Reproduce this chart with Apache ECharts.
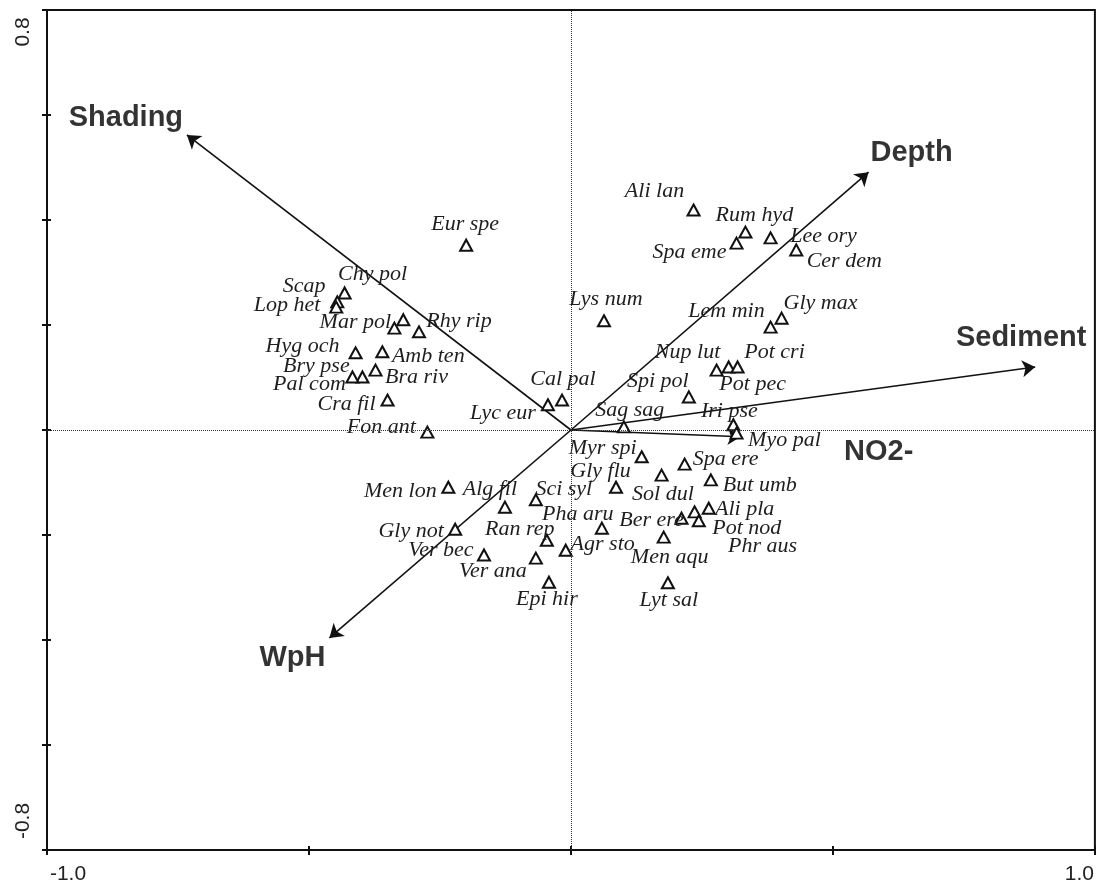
<!DOCTYPE html>
<html><head><meta charset="utf-8">
<script src="https://cdn.jsdelivr.net/npm/echarts@6/dist/echarts.min.js"></script>
<style>html,body{margin:0;padding:0;background:#fff}#c{width:1097px;height:887px}</style>
</head><body><div id="c"></div>
<script>
// ---- data ----
const species = ['Chy pol','Scap','Lop het','','Mar pol','Rhy rip','Hyg och','Amb ten','Bra riv','Bry pse','Pal com','Cra fil','Fon ant','Eur spe',
  'Lys num','Cal pal','Lyc eur','Ali lan','Rum hyd','Spa eme','Lee ory','Cer dem','Lem min','Gly max','Nup lut','Pot pec','Pot cri','Spi pol',
  'Sag sag','Iri pse','Myo pal','Myr spi','Spa ere','Gly flu','But umb','Sol dul','Ber ere','Phr aus','Pot nod','Ali pla','Men aqu','Lyt sal',
  'Men lon','Alg fil','Sci syl','Pha aru','Gly not','Ran rep','Agr sto','Ver bec','Ver ana','Epi hir'];
const speciesX = [-0.432,-0.446,-0.448,-0.320,-0.337,-0.290,-0.411,-0.360,-0.373,-0.398,-0.417,-0.350,-0.274,-0.200,
  0.063,-0.017,-0.044,0.234,0.333,0.316,0.381,0.430,0.381,0.402,0.278,0.301,0.318,0.225,
  0.101,0.310,0.316,0.135,0.217,0.173,0.267,0.086,0.211,0.236,0.244,0.263,0.177,0.185,
  -0.234,-0.126,-0.067,0.059,-0.221,-0.046,-0.010,-0.166,-0.067,-0.042];
const speciesY = [0.261,0.244,0.234,0.210,0.194,0.187,0.147,0.149,0.114,0.101,0.101,0.057,-0.004,0.352,
  0.208,0.057,0.048,0.419,0.377,0.356,0.366,0.343,0.196,0.213,0.114,0.120,0.120,0.063,
  0.006,0.010,-0.006,-0.051,-0.065,-0.086,-0.095,-0.109,-0.168,-0.156,-0.173,-0.149,-0.204,-0.291,
  -0.109,-0.147,-0.133,-0.187,-0.189,-0.210,-0.229,-0.238,-0.244,-0.290];
const envNames = ['Shading','Depth','Sediment','NO2-','WpH'];
const envX = [-0.733, 0.568, 0.886, 0.324, -0.461];
const envY = [0.562, 0.491, 0.120, -0.013, -0.396];
const xTickValues = [-1.0, 1.0];
const xTickLabels = ['-1.0', '1.0'];
const yTickValues = [-0.8, 0.8];
const yTickLabels = ['-0.8', '0.8'];

// ---- label placement (layout only) ----
const speciesLabelOffsets = [[29,-18],[-32,-15],[-48,-1],[0,0],[-38,-5],[41,-10],[-52,-6],[47,5],[42,8],[-45,-10],[-42,8],[-40,5],[-45,-4],[0,-20],
  [3,-21],[2,-20],[-44,9],[-38,-18],[10,-16],[-46,10],[54,-1],[49,12],[-43,-15],[40,-14],[-28,-17],[25,18],[38,-14],[-30,-15],
  [7,-16],[-3,-13],[49,8],[-38,-8],[42,-4],[-60,-3],[50,6],[48,8],[-29,3],[69,35],[49,8],[37,2],[7,21],[2,18],
  [-47,5],[-14,-17],[29,-10],[-23,-13],[-43,3],[-26,-10],[38,-5],[-42,-4],[-42,14],[-1,18]];
const envLabelOffsets = [[-61,-17],[43,-19],[-14,-29],[138,15],[-37,20]];

const chart = echarts.init(document.getElementById('c'), null, {renderer:'canvas'});
const tickFont = {fontFamily:'Liberation Sans, Arial, sans-serif', fontSize:21, color:'#222'};
function findIdx(vals, v){ for (let i=0;i<vals.length;i++) if (Math.abs(vals[i]-v)<1e-6) return i; return -1; }

const scatterData = species.map((n,i)=>({
  name:n, value:[speciesX[i], speciesY[i]],
  label:{offset:speciesLabelOffsets[i]}
}));
const arrowData = envNames.map((n,i)=>({coords:[[0,0],[envX[i],envY[i]]]}));
const envLabelData = envNames.map((n,i)=>({name:n, value:[envX[i],envY[i]], label:{offset:envLabelOffsets[i]}}));

const option = {
  animation:false,
  backgroundColor:'#fff',
  grid:{left:47, right:1, top:10, bottom:37, show:true, borderColor:'#111', borderWidth:2, backgroundColor:'transparent'},
  xAxis:[{
    type:'value', min:-1, max:1, interval:0.5, position:'bottom',
    axisLine:{show:true, onZero:false, lineStyle:{color:'#111', width:2}},
    axisTick:{show:true, inside:false, length:5, lineStyle:{color:'#111', width:2}},
    splitLine:{show:false},
    axisLabel:{show:true, showMinLabel:true, showMaxLabel:true, margin:14,
      formatter:function(v){const k=findIdx(xTickValues,v); if(k<0) return ''; return (k===0?'{l|':'{r|')+xTickLabels[k]+'}';},
      rich:{l:Object.assign({padding:[0,0,0,42]},tickFont), r:Object.assign({padding:[0,31,0,0]},tickFont)}}
  },{
    type:'value', min:-1, max:1, interval:0.5, position:'bottom',
    axisLine:{show:false, onZero:false},
    axisTick:{show:true, inside:true, length:4, lineStyle:{color:'#111', width:2}},
    splitLine:{show:false}, axisLabel:{show:false}
  }],
  yAxis:[{
    type:'value', min:-0.8, max:0.8, interval:0.2, position:'left',
    axisLine:{show:true, onZero:false, lineStyle:{color:'#111', width:2}},
    axisTick:{show:true, inside:false, length:5, lineStyle:{color:'#111', width:2}},
    splitLine:{show:false},
    axisLabel:{show:true, rotate:90, showMinLabel:true, showMaxLabel:true, margin:13,
      formatter:function(v){const k=findIdx(yTickValues,v); if(k<0) return ''; return (k===0?'{b|':'{t|')+yTickLabels[k]+'}';},
      rich:{t:Object.assign({padding:[0,44,0,0]},tickFont), b:Object.assign({padding:[0,0,0,58]},tickFont)}}
  },{
    type:'value', min:-0.8, max:0.8, interval:0.2, position:'left',
    axisLine:{show:false, onZero:false},
    axisTick:{show:true, inside:true, length:4, lineStyle:{color:'#111', width:2}},
    splitLine:{show:false}, axisLabel:{show:false}
  }],
  series:[
    {
      type:'scatter', xAxisIndex:0, yAxisIndex:0, z:1, silent:true,
      symbol:'none', data:[],
      markLine:{silent:true, symbol:['none','none'], label:{show:false},
        lineStyle:{type:'dotted', color:'#333', width:1},
        data:[{xAxis:0},{yAxis:0}]}
    },
    {
      type:'lines', coordinateSystem:'cartesian2d', xAxisIndex:0, yAxisIndex:0, z:3, silent:true,
      symbol:['none','arrow'], symbolSize:13,
      lineStyle:{color:'#111', width:1.6, opacity:1},
      data:arrowData
    },
    {
      type:'scatter', xAxisIndex:0, yAxisIndex:0, z:4, silent:true,
      symbol:'triangle', symbolSize:[12,11],
      itemStyle:{color:'#fff', borderColor:'#111', borderWidth:2, opacity:1},
      label:{show:true, position:[6,5.5], align:'center', verticalAlign:'middle', formatter:'{b}', color:'#1e1e1e',
        fontFamily:'Liberation Serif, Times New Roman, serif', fontStyle:'italic', fontSize:22},
      data:scatterData
    },
    {
      type:'scatter', xAxisIndex:0, yAxisIndex:0, z:5, silent:true,
      symbol:'circle', symbolSize:2, itemStyle:{color:'rgba(255,255,255,0)'},
      label:{show:true, position:[1,1], align:'center', verticalAlign:'middle', formatter:'{b}', color:'#000',
        fontFamily:'Liberation Sans, Arial, sans-serif', fontWeight:'bold', fontSize:29},
      data:envLabelData
    }
  ]
};
chart.setOption(option);
</script>
</body></html>
